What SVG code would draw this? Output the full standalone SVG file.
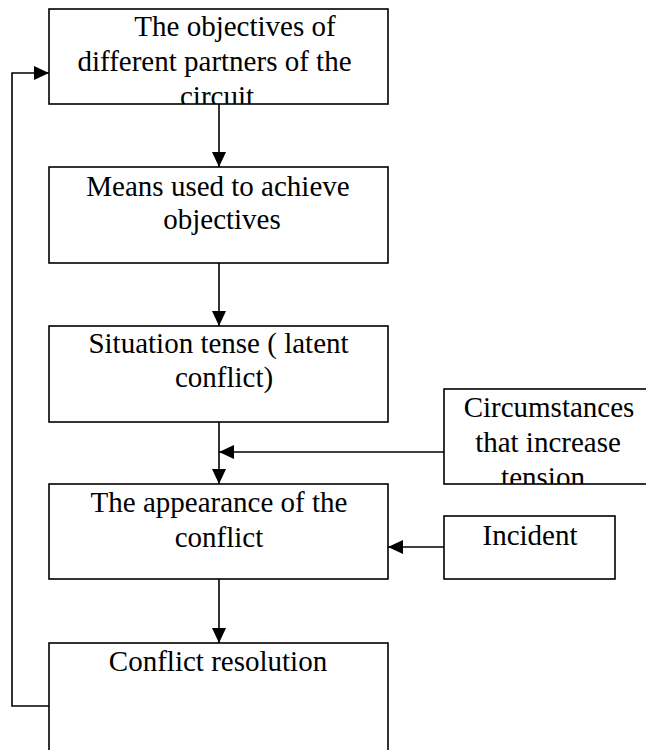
<svg xmlns="http://www.w3.org/2000/svg" width="646" height="750" viewBox="0 0 646 750">
<style>
.box{fill:#fff;stroke:#000;stroke-width:1.6}
.t{font-family:"Liberation Serif","Times New Roman",serif;font-size:29px;fill:#000;text-anchor:middle}
.c{fill:none;stroke:#000;stroke-width:1.6}
</style>
<defs>
<marker id="ah" markerUnits="userSpaceOnUse" markerWidth="15" markerHeight="14" refX="15" refY="7" orient="auto">
<path d="M0,0 L15,7 L0,14 z" fill="#000"/>
</marker>
<clipPath id="clip1"><rect x="49" y="9" width="339" height="95"/></clipPath>
<clipPath id="clipC"><rect x="444" y="389" width="210" height="95"/></clipPath>
</defs>
<rect width="646" height="750" fill="#fff"/>
<g id="n1">
<rect class="box" x="49" y="9" width="339" height="95" stroke-width="2"/>
<g clip-path="url(#clip1)">
<text class="t" x="235" y="36">The objectives of</text>
<text class="t" x="214.5" y="71">different partners of the</text>
<text class="t" x="217" y="106">circuit</text>
</g>
</g>
<g id="n2">
<rect class="box" x="49" y="167" width="339" height="96"/>
<text class="t" x="218" y="196">Means used to achieve</text>
<text class="t" x="222" y="229">objectives</text>
</g>
<g id="n3">
<rect class="box" x="49" y="326" width="339" height="96"/>
<text class="t" x="218.5" y="353">Situation tense ( latent</text>
<text class="t" x="224" y="387">conflict)</text>
</g>
<g id="n4">
<rect class="box" x="49" y="484" width="339" height="95"/>
<text class="t" x="219" y="512">The appearance of the</text>
<text class="t" x="219" y="547">conflict</text>
</g>
<g id="n5">
<rect class="box" x="49" y="643" width="339" height="120"/>
<text class="t" x="218" y="671">Conflict resolution</text>
</g>
<g id="n6">
<rect class="box" x="444" y="389" width="210" height="95"/>
<g clip-path="url(#clipC)">
<text class="t" x="549" y="417">Circumstances</text>
<text class="t" x="548" y="452">that increase</text>
<text class="t" x="543" y="487">tension</text>
</g>
</g>
<g id="n7">
<rect class="box" x="444" y="516" width="171" height="63"/>
<text class="t" x="530" y="545">Incident</text>
</g>
<g id="connectors">
<line class="c" x1="219" y1="104" x2="219" y2="167" marker-end="url(#ah)"/>
<line class="c" x1="219" y1="263" x2="219" y2="326" marker-end="url(#ah)"/>
<line class="c" x1="219" y1="422" x2="219" y2="484" marker-end="url(#ah)"/>
<line class="c" x1="444" y1="452" x2="219" y2="452" marker-end="url(#ah)"/>
<line class="c" x1="444" y1="547" x2="388" y2="547" marker-end="url(#ah)"/>
<line class="c" x1="219" y1="579" x2="219" y2="643" marker-end="url(#ah)"/>
<polyline class="c" points="49,706 12,706 12,73 49,73" marker-end="url(#ah)"/>
</g>
</svg>
